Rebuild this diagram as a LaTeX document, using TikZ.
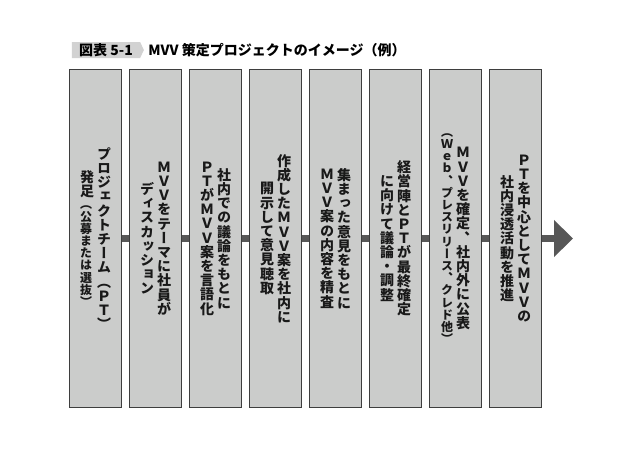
\documentclass[tikz,border=0pt]{standalone}
\usepackage{fontspec}
\usepackage{tikz}
\usetikzlibrary{arrows.meta, positioning, shapes.symbols}
\setmainfont{Noto Sans CJK JP}
\newfontfamily\tatefont[RawFeature=+vert]{Noto Sans CJK JP}
\definecolor{boxgray}{HTML}{CBCCCB}
\definecolor{edgegray}{HTML}{3E3E3E}
\definecolor{linkgray}{HTML}{575757}
\definecolor{taggray}{HTML}{D2D2D2}

% vertical (tategaki) columns: one character per line, first column on the right
\ExplSyntaxOn
\NewDocumentCommand \tatechars { m }
  { \tl_map_inline:nn {#1} { \hbox_to_wd:nn { 1em } { \hss ##1 \hss } } }
\ExplSyntaxOff
\newcommand{\tatecol}[1]{\vcenter{\baselineskip=14.2pt\lineskip=0pt\lineskiplimit=-20pt #1}}
\newcommand{\kakko}[1]{{\fontsize{12}{12.2}\selectfont\tatechars{#1}}}
\newcommand{\tate}[2]{$\tatecol{#2}\hskip3pt\tatecol{#1}$}

\begin{document}
\begin{tikzpicture}[x=1pt, y=-1pt,
    stepbox/.style={rectangle, draw=edgegray, line width=1.4pt, fill=boxgray,
        minimum width=52pt, minimum height=338pt, inner sep=0pt,
        text=black!90, font=\tatefont\bfseries\fontsize{14}{14.2}\selectfont},
    link/.style={draw=linkgray, line width=7pt},
    tag/.style={signal, signal to=east, signal pointer angle=130, fill=taggray,
        minimum width=72pt, minimum height=16pt, inner sep=1pt,
        font=\bfseries\fontsize{14}{16}\selectfont},
    titletext/.style={inner sep=0pt, font=\bfseries\fontsize{14}{16}\selectfont}]
        \useasboundingbox (0,0) rectangle (636,456);

        % Title
        \node[tag] (tag) at (106,50) {図表 5-1};
        \node[titletext, right=4pt of tag] (title) {MVV 策定プロジェクトのイメージ（例）};

        % Nodes
        \node[stepbox] (1) at (95.5,238.5) {\tate{\tatechars{プロジェクトチーム（ＰＴ）}}{\tatechars{発足}\kakko{（公募または選抜）}}};
        \node[stepbox] (2) at (155.5,238.5) {\tate{\tatechars{ＭＶＶをテーマに社員が}}{\tatechars{ディスカッション}}};
        \node[stepbox] (3) at (215.5,238.5) {\tate{\tatechars{社内での議論をもとに}}{\tatechars{ＰＴがＭＶＶ案を言語化}}};
        \node[stepbox] (4) at (275.5,238.5) {\tate{\tatechars{作成したＭＶＶ案を社内に}}{\tatechars{開示して意見聴取}}};
        \node[stepbox] (5) at (335.5,238.5) {\tate{\tatechars{集まった意見をもとに}}{\tatechars{ＭＶＶ案の内容を精査}}};
        \node[stepbox] (6) at (395.5,238.5) {\tate{\tatechars{経営陣とＰＴが最終確定}}{\tatechars{に向けて議論・調整}}};
        \node[stepbox] (7) at (455.5,238.5) {\tate{\tatechars{ＭＶＶを確定、社内外に公表}}{\kakko{（Ｗｅｂ、プレスリリース、クレド他）}}};
        \node[stepbox] (8) at (515.5,238.5) {\tate{\tatechars{ＰＴを中心としてＭＶＶの}}{\tatechars{社内浸透活動を推進}}};
        \coordinate (end) at (573,238.5);

        % Edges
        \draw[link] (1) -- (2);
        \draw[link] (2) -- (3);
        \draw[link] (3) -- (4);
        \draw[link] (4) -- (5);
        \draw[link] (5) -- (6);
        \draw[link] (6) -- (7);
        \draw[link] (7) -- (8);
        \draw[link, -{Triangle[length=19pt, width=36pt]}] (8) -- (end);

    \end{tikzpicture}
\end{document}
